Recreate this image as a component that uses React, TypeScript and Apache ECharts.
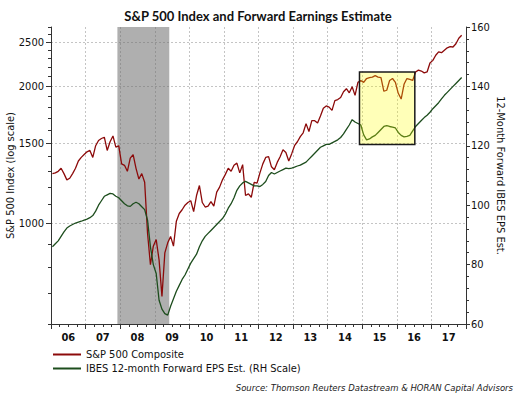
import React, { useEffect, useRef } from 'react';
import * as echarts from 'echarts';

const TITLE = 'S&P 500 Index and Forward Earnings Estimate';
const SOURCE = 'Source: Thomson Reuters Datastream & HORAN Capital Advisors';
const START_YEAR = 2006;

// Monthly S&P 500 Composite (Jan 2006 .. Nov 2017)
const spxComposite = [
  1285, 1290, 1300, 1320, 1285, 1245, 1255, 1285, 1320, 1370, 1395, 1415,
  1435, 1445, 1395, 1480, 1520, 1535, 1545, 1445, 1510, 1555, 1470, 1480,
  1350, 1340, 1300, 1390, 1415, 1320, 1250, 1285, 1230, 950, 810, 890,
  920, 830, 690, 860, 905, 935, 890, 1010, 1050, 1070, 1095, 1110,
  1120, 1060, 1150, 1210, 1110, 1085, 1090, 1115, 1090, 1170, 1200, 1245,
  1280, 1320, 1300, 1340, 1355, 1290, 1345, 1150, 1160, 1140, 1230, 1225,
  1290, 1350, 1395, 1400, 1330, 1310, 1360, 1400, 1450, 1430, 1370, 1420,
  1480, 1510, 1550, 1580, 1655, 1590, 1680, 1680, 1660, 1720, 1790, 1810,
  1800, 1770, 1860, 1870, 1890, 1945, 1975, 1935, 1995, 1910, 2040, 2060,
  2040, 2080, 2090, 2095, 2110, 2095, 2090, 1950, 1960, 2060, 2080, 2040,
  1930, 1875, 2020, 2080, 2070, 2060, 2150, 2170, 2160, 2140, 2150, 2250,
  2280, 2340, 2380, 2370, 2400, 2430, 2445, 2440, 2480, 2550, 2590,
];

// Monthly IBES 12-month forward EPS estimate (RH scale)
const ibesForwardEps = [
  86, 87, 88, 89.5, 91, 92.3, 93, 93.5, 94, 94.3, 94.6, 95,
  95.3, 95.8, 96.5, 98, 100, 101.5, 103, 103.5, 104, 103.8, 103, 102.5,
  101.5, 100.5, 99.8, 99.6, 100.5, 101, 100.5, 99.5, 98.5, 95, 86, 80,
  77, 68, 65, 63.5, 63, 66, 68.5, 71, 73, 75, 76.5, 78.5,
  80.5, 82, 83.5, 86, 88, 89.5, 90.5, 91.5, 92.5, 93.5, 94.5, 95.5,
  97, 99, 100.5, 102.5, 105, 106.5, 107.5, 108, 107.5, 107, 106.5, 106.5,
  106.3, 107, 108, 110, 111, 110.5, 111, 111.5, 112, 112.5, 112.3, 112.5,
  112.8, 113.2, 113.5, 114, 114.5, 115.5, 116.5, 117.5, 118.5, 119.5, 120, 120.5,
  120.5, 121, 121.5, 122, 122.8, 124, 125.5, 127, 128.8, 128, 127.5, 127,
  123.7, 122, 122.3, 123, 123.5, 124.5, 125.5, 126.5, 126.8, 126.5, 126.3, 126,
  124.5, 123.5, 123, 123.2, 123.5, 125, 126.5, 127.5, 128.5, 129.5, 130.3, 131.3,
  132.5, 133.5, 134.5, 135.8, 137, 138, 139, 140, 141, 142, 143,
];

const yearLabels = ['06', '07', '08', '09', '10', '11', '12', '13', '14', '15', '16', '17'];
const leftLabelValues = [1000, 1500, 2000, 2500];
const leftMinorTickValues = [600, 700, 800, 900, 1000, 1100, 1200, 1300, 1400, 1500, 1600, 1700, 1800, 1900, 2000, 2100, 2200, 2300, 2400, 2500, 2600, 2700];
const recessionSpan = [2007.92, 2009.42];
const highlightX = [2014.92, 2016.52];
const highlightY = [120.4, 144.85];

const RED = '#8c0a0a';
const GREEN = '#1d4d1d';
const FONT = '"DejaVu Sans Condensed", "DejaVu Sans", sans-serif';
const AXIS = '#333';
const GRID = '#c4c4c4';

export default function App() {
  const ref = useRef<HTMLDivElement>(null);
  useEffect(() => {
    document.body.style.margin = '0';
    const chart = echarts.init(ref.current!, null, { renderer: 'svg' });
    const toX = (i: number) => START_YEAR + (i + 0.5) / 12;
    const option: any = {
      animation: false,
      title: {
        text: TITLE,
        left: 'center',
        top: 4,
        textStyle: { fontFamily: 'Lato', fontWeight: 'bold', fontSize: 13, color: '#111' },
      },
      grid: { left: 51, right: 50, top: 27, bottom: 74, containLabel: false, outerBoundsMode: 'none' },
      legend: {
        orient: 'vertical',
        left: 53,
        top: 349,
        padding: 0,
        itemWidth: 28,
        itemHeight: 2,
        itemGap: 3,
        icon: 'rect',
        textStyle: { fontFamily: FONT, fontSize: 11, color: '#111' },
      },
      xAxis: [
        {
          type: 'value',
          min: 2006,
          max: 2018,
          interval: 1,
          position: 'bottom',
          axisLine: { show: true, lineStyle: { color: AXIS } },
          axisTick: { show: true, length: 5, lineStyle: { color: AXIS } },
          minorTick: { show: true, splitNumber: 4, length: 3, lineStyle: { color: AXIS } },
          axisLabel: { show: false },
          splitLine: { show: true, lineStyle: { color: GRID, type: [2, 2] } },
        },
        {
          type: 'category',
          data: yearLabels,
          position: 'bottom',
          axisLine: { show: false },
          axisTick: { show: false },
          splitLine: { show: false },
          axisLabel: { margin: 8, fontFamily: FONT, fontWeight: 'bold', fontSize: 11, color: '#111' },
        },
      ],
      yAxis: [
        {
          type: 'log',
          logBase: 10,
          min: 600,
          max: 2700,
          position: 'left',
          name: 'S&P 500 Index (log scale)',
          nameLocation: 'middle',
          nameGap: 35,
          nameMoveOverlap: false,
          nameTextStyle: { fontFamily: FONT, fontSize: 11, color: '#111' },
          axisLine: { show: true, lineStyle: { color: AXIS } },
          axisTick: { show: true, length: 5, customValues: leftLabelValues, lineStyle: { color: AXIS } },
          axisLabel: {
            customValues: leftLabelValues,
            formatter: (v: number) => String(Math.round(v)),
            margin: 7,
            fontFamily: FONT,
            fontSize: 11,
            color: '#111',
          },
          splitLine: { show: true, lineStyle: { color: GRID, type: [2, 2] } },
        },
        {
          type: 'value',
          min: 60,
          max: 160,
          interval: 20,
          position: 'right',
          name: '12-Month Forward IBES EPS Est.',
          nameLocation: 'middle',
          nameRotate: -90,
          nameGap: 29,
          nameMoveOverlap: false,
          nameTextStyle: { fontFamily: FONT, fontSize: 11, color: '#111' },
          axisLine: { show: true, lineStyle: { color: AXIS } },
          axisTick: { show: true, length: 4, lineStyle: { color: AXIS } },
          minorTick: { show: true, splitNumber: 5, length: 3, lineStyle: { color: AXIS } },
          axisLabel: { margin: 5, fontFamily: FONT, fontSize: 11, color: '#111' },
          splitLine: { show: false },
        },
        {
          type: 'log',
          logBase: 10,
          min: 600,
          max: 2700,
          position: 'left',
          axisLine: { show: false },
          axisTick: { show: true, length: 3, customValues: leftMinorTickValues, lineStyle: { color: AXIS } },
          axisLabel: { show: false },
          splitLine: { show: false },
        },
      ],
      series: [
        {
          name: 'S&P 500 Composite',
          type: 'line',
          xAxisIndex: 0,
          yAxisIndex: 0,
          z: 3,
          color: RED,
          showSymbol: false,
          symbol: 'none',
          lineStyle: { color: RED, width: 1.3 },
          data: spxComposite.map((v, i) => [toX(i), v]),
          markArea: {
            silent: true,
            z: 1,
            itemStyle: { color: 'rgba(110,110,110,0.55)' },
            data: [[{ xAxis: recessionSpan[0] }, { xAxis: recessionSpan[1] }]],
          },
        },
        {
          name: 'IBES 12-month Forward EPS Est. (RH Scale)',
          type: 'line',
          xAxisIndex: 0,
          yAxisIndex: 1,
          z: 3,
          color: GREEN,
          showSymbol: false,
          symbol: 'none',
          lineStyle: { color: GREEN, width: 1.3 },
          data: ibesForwardEps.map((v, i) => [toX(i), v]),
          markArea: {
            silent: true,
            z: 10,
            itemStyle: { color: 'rgba(255,255,0,0.28)', borderColor: '#1a1a1a', borderWidth: 1.5 },
            data: [[
              { xAxis: highlightX[0], yAxis: highlightY[1] },
              { xAxis: highlightX[1], yAxis: highlightY[0] },
            ]],
          },
        },
      ],
      graphic: [
        {
          type: 'text',
          right: 3,
          top: 383,
          style: { text: SOURCE, font: 'italic 8.5px "DejaVu Sans"', fill: '#222' },
        },
      ],
    };
    chart.setOption(option);
    return () => chart.dispose();
  }, []);
  return <div ref={ref} style={{ width: 516, height: 398 }} />;
}
